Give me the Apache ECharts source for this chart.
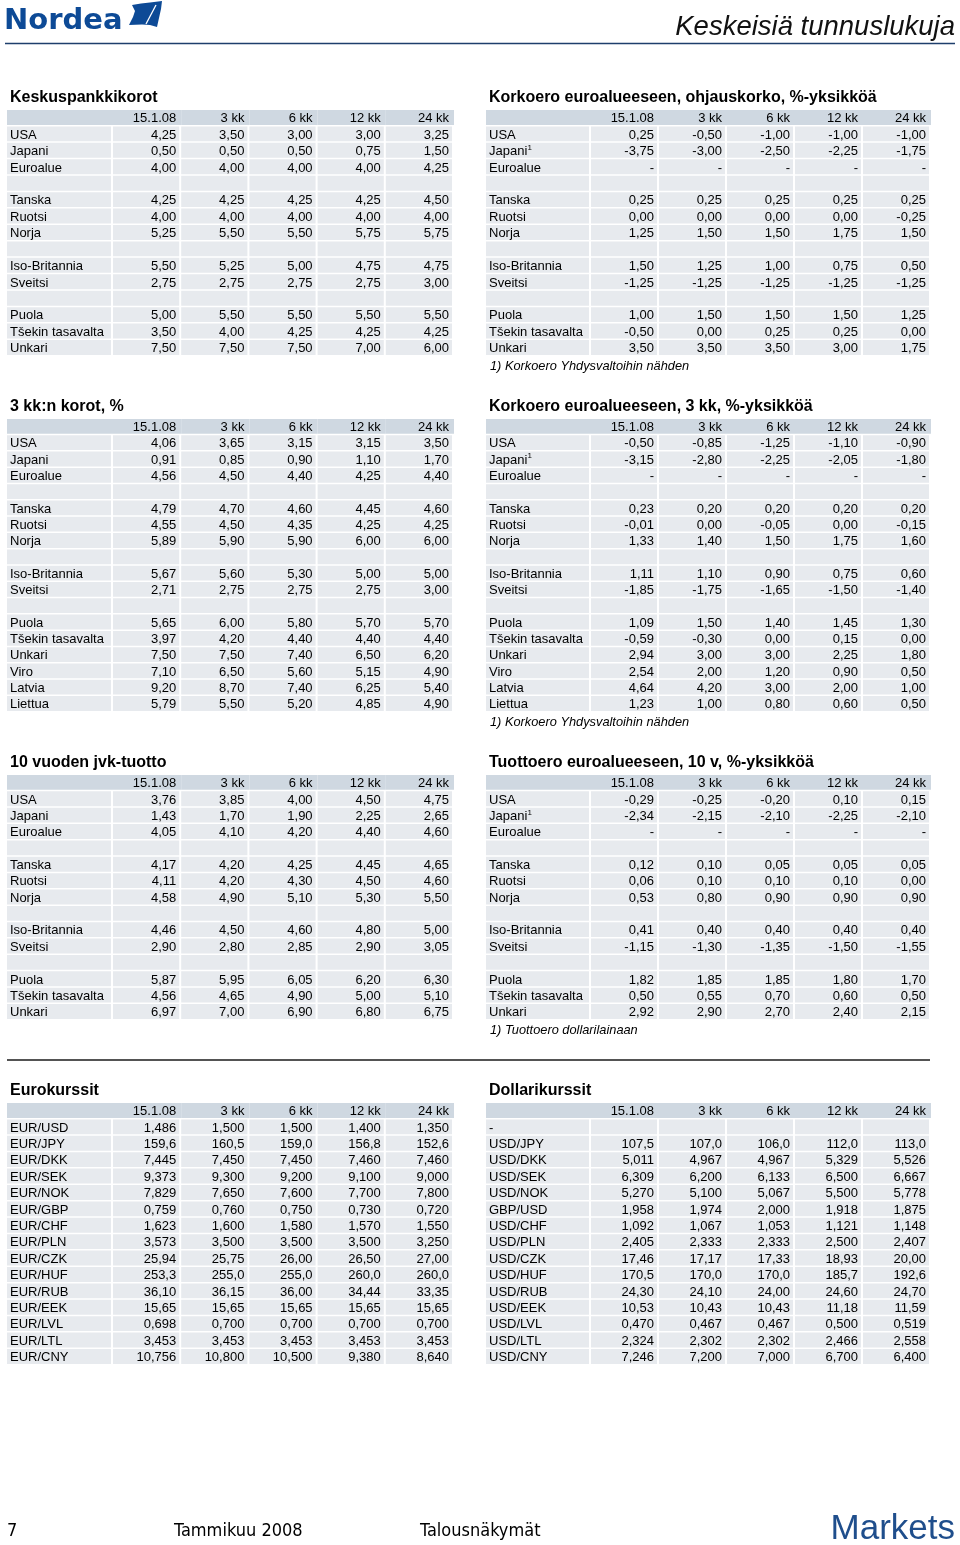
<!DOCTYPE html>
<html>
<head>
<meta charset="utf-8">
<script src="https://cdn.jsdelivr.net/npm/echarts@6/dist/echarts.min.js"></script>
<style>
  html, body { margin: 0; padding: 0; background: #fff; }
  #main { width: 960px; height: 1545px; }
</style>
</head>
<body>
<div id="main"></div>
<script>
var periods = ['15.1.08', '3 kk', '6 kk', '12 kk', '24 kk']

var countries = ['USA', 'Japani', 'Euroalue', '', 'Tanska', 'Ruotsi', 'Norja', '', 'Iso-Britannia', 'Sveitsi', '', 'Puola', 'Tšekin tasavalta', 'Unkari']
var countriesSup = ['USA', 'Japani¹', 'Euroalue', '', 'Tanska', 'Ruotsi', 'Norja', '', 'Iso-Britannia', 'Sveitsi', '', 'Puola', 'Tšekin tasavalta', 'Unkari']
var countriesBaltic = countries.concat(['Viro', 'Latvia', 'Liettua'])
var countriesBalticSup = countriesSup.concat(['Viro', 'Latvia', 'Liettua'])
var eurPairs = ['EUR/USD', 'EUR/JPY', 'EUR/DKK', 'EUR/SEK', 'EUR/NOK', 'EUR/GBP', 'EUR/CHF', 'EUR/PLN', 'EUR/CZK', 'EUR/HUF', 'EUR/RUB', 'EUR/EEK', 'EUR/LVL', 'EUR/LTL', 'EUR/CNY']
var usdPairs = ['-', 'USD/JPY', 'USD/DKK', 'USD/SEK', 'USD/NOK', 'GBP/USD', 'USD/CHF', 'USD/PLN', 'USD/CZK', 'USD/HUF', 'USD/RUB', 'USD/EEK', 'USD/LVL', 'USD/LTL', 'USD/CNY']

// Keskuspankkikorot
var policyRates = [
  ['4,25', '3,50', '3,00', '3,00', '3,25'],
  ['0,50', '0,50', '0,50', '0,75', '1,50'],
  ['4,00', '4,00', '4,00', '4,00', '4,25'],
  null,
  ['4,25', '4,25', '4,25', '4,25', '4,50'],
  ['4,00', '4,00', '4,00', '4,00', '4,00'],
  ['5,25', '5,50', '5,50', '5,75', '5,75'],
  null,
  ['5,50', '5,25', '5,00', '4,75', '4,75'],
  ['2,75', '2,75', '2,75', '2,75', '3,00'],
  null,
  ['5,00', '5,50', '5,50', '5,50', '5,50'],
  ['3,50', '4,00', '4,25', '4,25', '4,25'],
  ['7,50', '7,50', '7,50', '7,00', '6,00']
]
// Korkoero euroalueeseen, ohjauskorko
var policySpread = [
  ['0,25', '-0,50', '-1,00', '-1,00', '-1,00'],
  ['-3,75', '-3,00', '-2,50', '-2,25', '-1,75'],
  ['-', '-', '-', '-', '-'],
  null,
  ['0,25', '0,25', '0,25', '0,25', '0,25'],
  ['0,00', '0,00', '0,00', '0,00', '-0,25'],
  ['1,25', '1,50', '1,50', '1,75', '1,50'],
  null,
  ['1,50', '1,25', '1,00', '0,75', '0,50'],
  ['-1,25', '-1,25', '-1,25', '-1,25', '-1,25'],
  null,
  ['1,00', '1,50', '1,50', '1,50', '1,25'],
  ['-0,50', '0,00', '0,25', '0,25', '0,00'],
  ['3,50', '3,50', '3,50', '3,00', '1,75']
]
// 3 kk:n korot
var rates3m = [
  ['4,06', '3,65', '3,15', '3,15', '3,50'],
  ['0,91', '0,85', '0,90', '1,10', '1,70'],
  ['4,56', '4,50', '4,40', '4,25', '4,40'],
  null,
  ['4,79', '4,70', '4,60', '4,45', '4,60'],
  ['4,55', '4,50', '4,35', '4,25', '4,25'],
  ['5,89', '5,90', '5,90', '6,00', '6,00'],
  null,
  ['5,67', '5,60', '5,30', '5,00', '5,00'],
  ['2,71', '2,75', '2,75', '2,75', '3,00'],
  null,
  ['5,65', '6,00', '5,80', '5,70', '5,70'],
  ['3,97', '4,20', '4,40', '4,40', '4,40'],
  ['7,50', '7,50', '7,40', '6,50', '6,20'],
  ['7,10', '6,50', '5,60', '5,15', '4,90'],
  ['9,20', '8,70', '7,40', '6,25', '5,40'],
  ['5,79', '5,50', '5,20', '4,85', '4,90']
]
// Korkoero euroalueeseen, 3 kk
var spread3m = [
  ['-0,50', '-0,85', '-1,25', '-1,10', '-0,90'],
  ['-3,15', '-2,80', '-2,25', '-2,05', '-1,80'],
  ['-', '-', '-', '-', '-'],
  null,
  ['0,23', '0,20', '0,20', '0,20', '0,20'],
  ['-0,01', '0,00', '-0,05', '0,00', '-0,15'],
  ['1,33', '1,40', '1,50', '1,75', '1,60'],
  null,
  ['1,11', '1,10', '0,90', '0,75', '0,60'],
  ['-1,85', '-1,75', '-1,65', '-1,50', '-1,40'],
  null,
  ['1,09', '1,50', '1,40', '1,45', '1,30'],
  ['-0,59', '-0,30', '0,00', '0,15', '0,00'],
  ['2,94', '3,00', '3,00', '2,25', '1,80'],
  ['2,54', '2,00', '1,20', '0,90', '0,50'],
  ['4,64', '4,20', '3,00', '2,00', '1,00'],
  ['1,23', '1,00', '0,80', '0,60', '0,50']
]
// 10 vuoden jvk-tuotto
var yields10y = [
  ['3,76', '3,85', '4,00', '4,50', '4,75'],
  ['1,43', '1,70', '1,90', '2,25', '2,65'],
  ['4,05', '4,10', '4,20', '4,40', '4,60'],
  null,
  ['4,17', '4,20', '4,25', '4,45', '4,65'],
  ['4,11', '4,20', '4,30', '4,50', '4,60'],
  ['4,58', '4,90', '5,10', '5,30', '5,50'],
  null,
  ['4,46', '4,50', '4,60', '4,80', '5,00'],
  ['2,90', '2,80', '2,85', '2,90', '3,05'],
  null,
  ['5,87', '5,95', '6,05', '6,20', '6,30'],
  ['4,56', '4,65', '4,90', '5,00', '5,10'],
  ['6,97', '7,00', '6,90', '6,80', '6,75']
]
// Tuottoero euroalueeseen, 10 v
var spread10y = [
  ['-0,29', '-0,25', '-0,20', '0,10', '0,15'],
  ['-2,34', '-2,15', '-2,10', '-2,25', '-2,10'],
  ['-', '-', '-', '-', '-'],
  null,
  ['0,12', '0,10', '0,05', '0,05', '0,05'],
  ['0,06', '0,10', '0,10', '0,10', '0,00'],
  ['0,53', '0,80', '0,90', '0,90', '0,90'],
  null,
  ['0,41', '0,40', '0,40', '0,40', '0,40'],
  ['-1,15', '-1,30', '-1,35', '-1,50', '-1,55'],
  null,
  ['1,82', '1,85', '1,85', '1,80', '1,70'],
  ['0,50', '0,55', '0,70', '0,60', '0,50'],
  ['2,92', '2,90', '2,70', '2,40', '2,15']
]
// Eurokurssit
var eurRates = [
  ['1,486', '1,500', '1,500', '1,400', '1,350'],
  ['159,6', '160,5', '159,0', '156,8', '152,6'],
  ['7,445', '7,450', '7,450', '7,460', '7,460'],
  ['9,373', '9,300', '9,200', '9,100', '9,000'],
  ['7,829', '7,650', '7,600', '7,700', '7,800'],
  ['0,759', '0,760', '0,750', '0,730', '0,720'],
  ['1,623', '1,600', '1,580', '1,570', '1,550'],
  ['3,573', '3,500', '3,500', '3,500', '3,250'],
  ['25,94', '25,75', '26,00', '26,50', '27,00'],
  ['253,3', '255,0', '255,0', '260,0', '260,0'],
  ['36,10', '36,15', '36,00', '34,44', '33,35'],
  ['15,65', '15,65', '15,65', '15,65', '15,65'],
  ['0,698', '0,700', '0,700', '0,700', '0,700'],
  ['3,453', '3,453', '3,453', '3,453', '3,453'],
  ['10,756', '10,800', '10,500', '9,380', '8,640']
]
// Dollarikurssit
var usdRates = [
  null,
  ['107,5', '107,0', '106,0', '112,0', '113,0'],
  ['5,011', '4,967', '4,967', '5,329', '5,526'],
  ['6,309', '6,200', '6,133', '6,500', '6,667'],
  ['5,270', '5,100', '5,067', '5,500', '5,778'],
  ['1,958', '1,974', '2,000', '1,918', '1,875'],
  ['1,092', '1,067', '1,053', '1,121', '1,148'],
  ['2,405', '2,333', '2,333', '2,500', '2,407'],
  ['17,46', '17,17', '17,33', '18,93', '20,00'],
  ['170,5', '170,0', '170,0', '185,7', '192,6'],
  ['24,30', '24,10', '24,00', '24,60', '24,70'],
  ['10,53', '10,43', '10,43', '11,18', '11,59'],
  ['0,470', '0,467', '0,467', '0,500', '0,519'],
  ['2,324', '2,302', '2,302', '2,466', '2,558'],
  ['7,246', '7,200', '7,000', '6,700', '6,400']
]

var FONT = '"Liberation Sans", Arial, Helvetica, sans-serif'
var NARROW = '"Liberation Sans Narrow", "DejaVu Sans Condensed", sans-serif'

var tables = [
  { title: 'Keskuspankkikorot', labels: countries, values: policyRates, left: 7, labelW: 106, colW: 68.2, top: 110, rowH: 16.43 },
  { title: 'Korkoero euroalueeseen, ohjauskorko, %-yksikköä', labels: countriesSup, values: policySpread, left: 486, labelW: 105, colW: 68, top: 110, rowH: 16.43, note: '1) Korkoero Yhdysvaltoihin nähden' },
  { title: '3 kk:n korot, %', labels: countriesBaltic, values: rates3m, left: 7, labelW: 106, colW: 68.2, top: 419, rowH: 16.3 },
  { title: 'Korkoero euroalueeseen, 3 kk, %-yksikköä', labels: countriesBalticSup, values: spread3m, left: 486, labelW: 105, colW: 68, top: 419, rowH: 16.3, note: '1) Korkoero Yhdysvaltoihin nähden' },
  { title: '10 vuoden jvk-tuotto', labels: countries, values: yields10y, left: 7, labelW: 106, colW: 68.2, top: 775, rowH: 16.36 },
  { title: 'Tuottoero euroalueeseen, 10 v, %-yksikköä', labels: countriesSup, values: spread10y, left: 486, labelW: 105, colW: 68, top: 775, rowH: 16.36, note: '1) Tuottoero dollarilainaan' },
  { title: 'Eurokurssit', labels: eurPairs, values: eurRates, left: 7, labelW: 106, colW: 68.2, top: 1103, rowH: 16.4 },
  { title: 'Dollarikurssit', labels: usdPairs, values: usdRates, left: 486, labelW: 105, colW: 68, top: 1103, rowH: 16.4 }
]

function makeRender(cells) {
  return function(params, api) {
    var cell = cells[params.dataIndex]
    var pt = api.coord([cell[0], cell[1]])
    var sz = api.size([1, 1])
    var w = sz[0]
    var h = sz[1]
    var x = pt[0] - w / 2
    var y = pt[1] - h / 2
    var head = cell[1] === 0
    var alignLeft = cell[3] === 'left'
    var children = [
      {
        type: 'rect',
        shape: { x: x, y: y, width: head ? w : w - 2, height: h - 1.5 },
        style: { fill: head ? '#cfd8e1' : '#e7eaee' }
      }
    ]
    var txt = String(cell[2])
    var sup = txt.indexOf('¹') >= 0
    txt = txt.replace('¹', '')
    var tx = alignLeft ? x + 3 : x + w - 5
    var ty = y + (h - 1.5) / 2 + 1.2
    children.push({
      type: 'text',
      style: {
        text: txt, x: tx, y: ty,
        align: alignLeft ? 'left' : 'right',
        verticalAlign: 'middle',
        fill: '#000',
        font: '13px ' + FONT
      }
    })
    if (sup) {
      // superscript footnote marker after the label
      children.push({
        type: 'text',
        style: {
          text: '1', x: tx + 38.5, y: ty - 4,
          verticalAlign: 'middle',
          fill: '#000',
          font: '8px ' + FONT
        }
      })
    }
    return { type: 'group', children: children }
  }
}

var grids = []
var xAxes = []
var yAxes = []
var series = []
var graphics = []

tables.forEach(function(t) {
  var nRows = t.labels.length + 1
  var rowIds = []
  for (var i = 0; i < nRows; i++) rowIds.push(String(i))
  var height = nRows * t.rowH

  // label column
  var gi = grids.length
  grids.push({ left: t.left, top: t.top, width: t.labelW, height: height })
  xAxes.push({ type: 'category', gridIndex: gi, data: ['label'], show: false })
  yAxes.push({ type: 'category', gridIndex: gi, data: rowIds, inverse: true, show: false })
  var labelCells = [[0, 0, '', 'left']]
  t.labels.forEach(function(lab, r) {
    labelCells.push([0, r + 1, lab, 'left'])
  })
  series.push({
    type: 'custom', xAxisIndex: gi, yAxisIndex: gi,
    renderItem: makeRender(labelCells),
    data: labelCells.map(function(c) { return [c[0], c[1]] })
  })

  // value columns
  gi = grids.length
  grids.push({ left: t.left + t.labelW, top: t.top, width: t.colW * periods.length, height: height })
  xAxes.push({ type: 'category', gridIndex: gi, data: periods, show: false })
  yAxes.push({ type: 'category', gridIndex: gi, data: rowIds, inverse: true, show: false })
  var valueCells = []
  periods.forEach(function(p, c) {
    valueCells.push([c, 0, p, 'right'])
  })
  t.values.forEach(function(row, r) {
    periods.forEach(function(p, c) {
      valueCells.push([c, r + 1, row ? row[c] : '', 'right'])
    })
  })
  series.push({
    type: 'custom', xAxisIndex: gi, yAxisIndex: gi,
    renderItem: makeRender(valueCells),
    data: valueCells.map(function(c) { return [c[0], c[1]] })
  })

  graphics.push({
    type: 'text',
    style: { text: t.title, x: t.left + 3, y: t.top - 12, verticalAlign: 'middle', fill: '#000', font: 'bold 16px ' + FONT }
  })
  if (t.note) {
    graphics.push({
      type: 'text',
      style: { text: t.note, x: t.left + 4, y: t.top + height + 10, verticalAlign: 'middle', fill: '#000', font: 'italic 12.8px ' + FONT }
    })
  }
})

// page header
graphics.push(
  {
    type: 'text',
    style: { text: 'Nordea', x: 4, y: 21, verticalAlign: 'middle', fill: '#0d4a96', font: 'bold 29px "DejaVu Sans", sans-serif' }
  },
  {
    type: 'polygon',
    shape: { points: [[132, 5], [141, 3.5], [150, 2.5], [162, 1], [161, 9], [159, 18], [157, 27], [150, 25], [142, 24.5], [129, 25], [133, 17], [135, 11]] },
    style: { fill: '#0d4a96' }
  },
  {
    type: 'line',
    shape: { x1: 156, y1: 5, x2: 146, y2: 24 },
    style: { stroke: '#fff', lineWidth: 1.3 }
  },
  {
    type: 'text',
    style: { text: 'Keskeisiä tunnuslukuja', x: 955, y: 27, align: 'right', verticalAlign: 'middle', fill: '#111', font: 'italic 27.5px ' + FONT }
  },
  {
    type: 'line',
    shape: { x1: 5, y1: 43.5, x2: 955, y2: 43.5 },
    style: { stroke: '#1e3f6c', lineWidth: 1.5 }
  },
  {
    type: 'line',
    shape: { x1: 7, y1: 1060, x2: 930, y2: 1060 },
    style: { stroke: '#1a1a1a', lineWidth: 1.5 }
  },
  // footer
  {
    type: 'text',
    style: { text: '7', x: 7, y: 1531, verticalAlign: 'middle', fill: '#000', font: '18px ' + NARROW }
  },
  {
    type: 'text',
    style: { text: 'Tammikuu 2008', x: 174, y: 1531, verticalAlign: 'middle', fill: '#000', font: '18px ' + NARROW }
  },
  {
    type: 'text',
    style: { text: 'Talousnäkymät', x: 420, y: 1531, verticalAlign: 'middle', fill: '#000', font: '18px ' + NARROW }
  },
  {
    type: 'text',
    style: { text: 'Markets', x: 955, y: 1529, align: 'right', verticalAlign: 'middle', fill: '#1f4e8c', font: '35px ' + FONT }
  }
)

var chart = echarts.init(document.getElementById('main'))
chart.setOption({
  animation: false,
  backgroundColor: '#fff',
  grid: grids,
  xAxis: xAxes,
  yAxis: yAxes,
  series: series,
  graphic: graphics
})
</script>
</body>
</html>
